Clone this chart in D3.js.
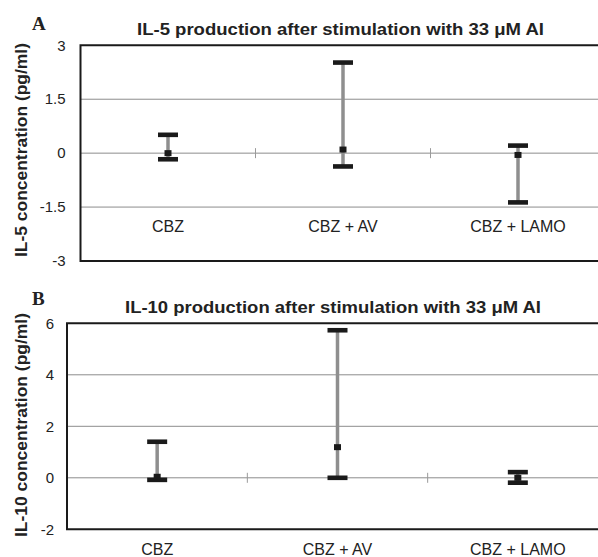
<!DOCTYPE html>
<html>
<head>
<meta charset="utf-8">
<script src="https://cdn.jsdelivr.net/npm/d3@7"></script>
<style>
  html, body { margin:0; padding:0; background:#fff; }
  svg { display:block; font-family: Arial, "Liberation Sans", sans-serif; }
</style>
</head>
<body>
<svg id="chart" width="598" height="557"></svg>
<script>
// --- Data ---
const categories = ["CBZ", "CBZ + AV", "CBZ + LAMO"];

// IL-5 (panel A)
const il5Mean = [0.00, 0.10, -0.05];
const il5Low  = [-0.17, -0.37, -1.37];
const il5High = [0.51, 2.52, 0.21];
const il5Ticks = [-3, -1.5, 0, 1.5, 3];

// IL-10 (panel B)
const il10Mean = [0.04, 1.19, 0.00];
const il10Low  = [-0.08, 0.00, -0.19];
const il10High = [1.40, 5.73, 0.22];
const il10Ticks = [-2, 0, 2, 4, 6];

const svg = d3.select("#chart");

// --- Panel layouts ---
const panels = [
  {
    letter: "A", letterY: 29.5,
    title: "IL-5 production after stimulation with 33 μM AI", titleX: 137, titleY: 35, titleLen: 407,
    yTitle: "IL-5 concentration (pg/ml)", yTitleCy: 150, yTitleLen: 214,
    mean: il5Mean, low: il5Low, high: il5High, ticks: il5Ticks,
    xRange: [80.5, 605.5], yRange: [261, 45.3],
    labelY: 232, tickGap: 15
  },
  {
    letter: "B", letterY: 305,
    title: "IL-10 production after stimulation with 33 μM AI", titleX: 125, titleY: 313, titleLen: 416,
    yTitle: "IL-10 concentration (pg/ml)", yTitleCy: 425, yTitleLen: 224,
    mean: il10Mean, low: il10Low, high: il10High, ticks: il10Ticks,
    xRange: [67, 608], yRange: [529.3, 323.3],
    labelY: 555, tickGap: 13
  }
];

panels.forEach(p => {
  const g = svg.append("g");
  const x = d3.scaleBand().domain(categories).range(p.xRange);
  const y = d3.scaleLinear().domain(d3.extent(p.ticks)).range(p.yRange);
  const left = p.xRange[0], right = 598;
  const cx = d => x(d) + x.bandwidth() / 2;

  // gridlines (interior)
  g.selectAll(".grid").data(p.ticks.slice(1, -1)).enter().append("line")
    .attr("x1", left).attr("x2", right)
    .attr("y1", d => y(d)).attr("y2", d => y(d))
    .attr("stroke", "#8c8c8c").attr("stroke-width", 1);

  // category separator ticks on the zero line
  g.selectAll(".sep").data(categories.slice(1)).enter().append("line")
    .attr("x1", d => x(d)).attr("x2", d => x(d))
    .attr("y1", y(0) - 5).attr("y2", y(0) + 5)
    .attr("stroke", "#9a9a9a").attr("stroke-width", 1);

  // frame: top, left, bottom
  const top = y(p.ticks[p.ticks.length - 1]), bot = y(p.ticks[0]);
  g.append("path")
    .attr("d", `M${right},${top}H${left}V${bot}H${right}`)
    .attr("fill", "none").attr("stroke", "#1a1a1a").attr("stroke-width", 2);

  // y tick labels
  g.selectAll(".ytl").data(p.ticks).enter().append("text")
    .attr("x", left - p.tickGap).attr("y", d => y(d))
    .attr("dy", "0.35em").attr("text-anchor", "end")
    .attr("font-size", 15).attr("fill", "#222")
    .text(d => d);

  // error bars
  const rows = categories.map((c, i) => ({ c, m: p.mean[i], lo: p.low[i], hi: p.high[i] }));
  const bars = g.selectAll(".bar").data(rows).enter().append("g");
  bars.append("line")
    .attr("x1", d => cx(d.c)).attr("x2", d => cx(d.c))
    .attr("y1", d => y(d.hi)).attr("y2", d => y(d.lo))
    .attr("stroke", "#8f8f8f").attr("stroke-width", 3.5);
  bars.selectAll(".cap").data(d => [d.hi, d.lo].map(v => ({ c: d.c, v }))).enter().append("rect")
    .attr("x", d => cx(d.c) - 10).attr("y", d => y(d.v) - 2.3)
    .attr("width", 20).attr("height", 4.6)
    .attr("fill", "#1a1a1a");
  bars.append("rect")
    .attr("x", d => cx(d.c) - 3.5).attr("y", d => y(d.m) - 3)
    .attr("width", 7).attr("height", 6)
    .attr("fill", "#1a1a1a");

  // category labels
  g.selectAll(".xl").data(categories).enter().append("text")
    .attr("x", d => cx(d)).attr("y", p.labelY)
    .attr("text-anchor", "middle").attr("font-size", 16).attr("fill", "#222")
    .text(d => d);

  // panel letter
  g.append("text")
    .attr("x", 32).attr("y", p.letterY)
    .attr("font-family", "'Liberation Serif', 'Times New Roman', serif")
    .attr("font-weight", "bold").attr("font-size", 19).attr("fill", "#222")
    .text(p.letter);

  // title
  g.append("text")
    .attr("x", p.titleX).attr("y", p.titleY)
    .attr("font-weight", "bold").attr("font-size", 16.5).attr("fill", "#222")
    .attr("textLength", p.titleLen).attr("lengthAdjust", "spacingAndGlyphs")
    .text(p.title);

  // y axis title
  g.append("text")
    .attr("transform", `translate(26.5,${p.yTitleCy}) rotate(-90)`)
    .attr("text-anchor", "middle")
    .attr("font-weight", "bold").attr("font-size", 16).attr("fill", "#222")
    .attr("textLength", p.yTitleLen).attr("lengthAdjust", "spacingAndGlyphs")
    .text(p.yTitle);
});
</script>
</body>
</html>
